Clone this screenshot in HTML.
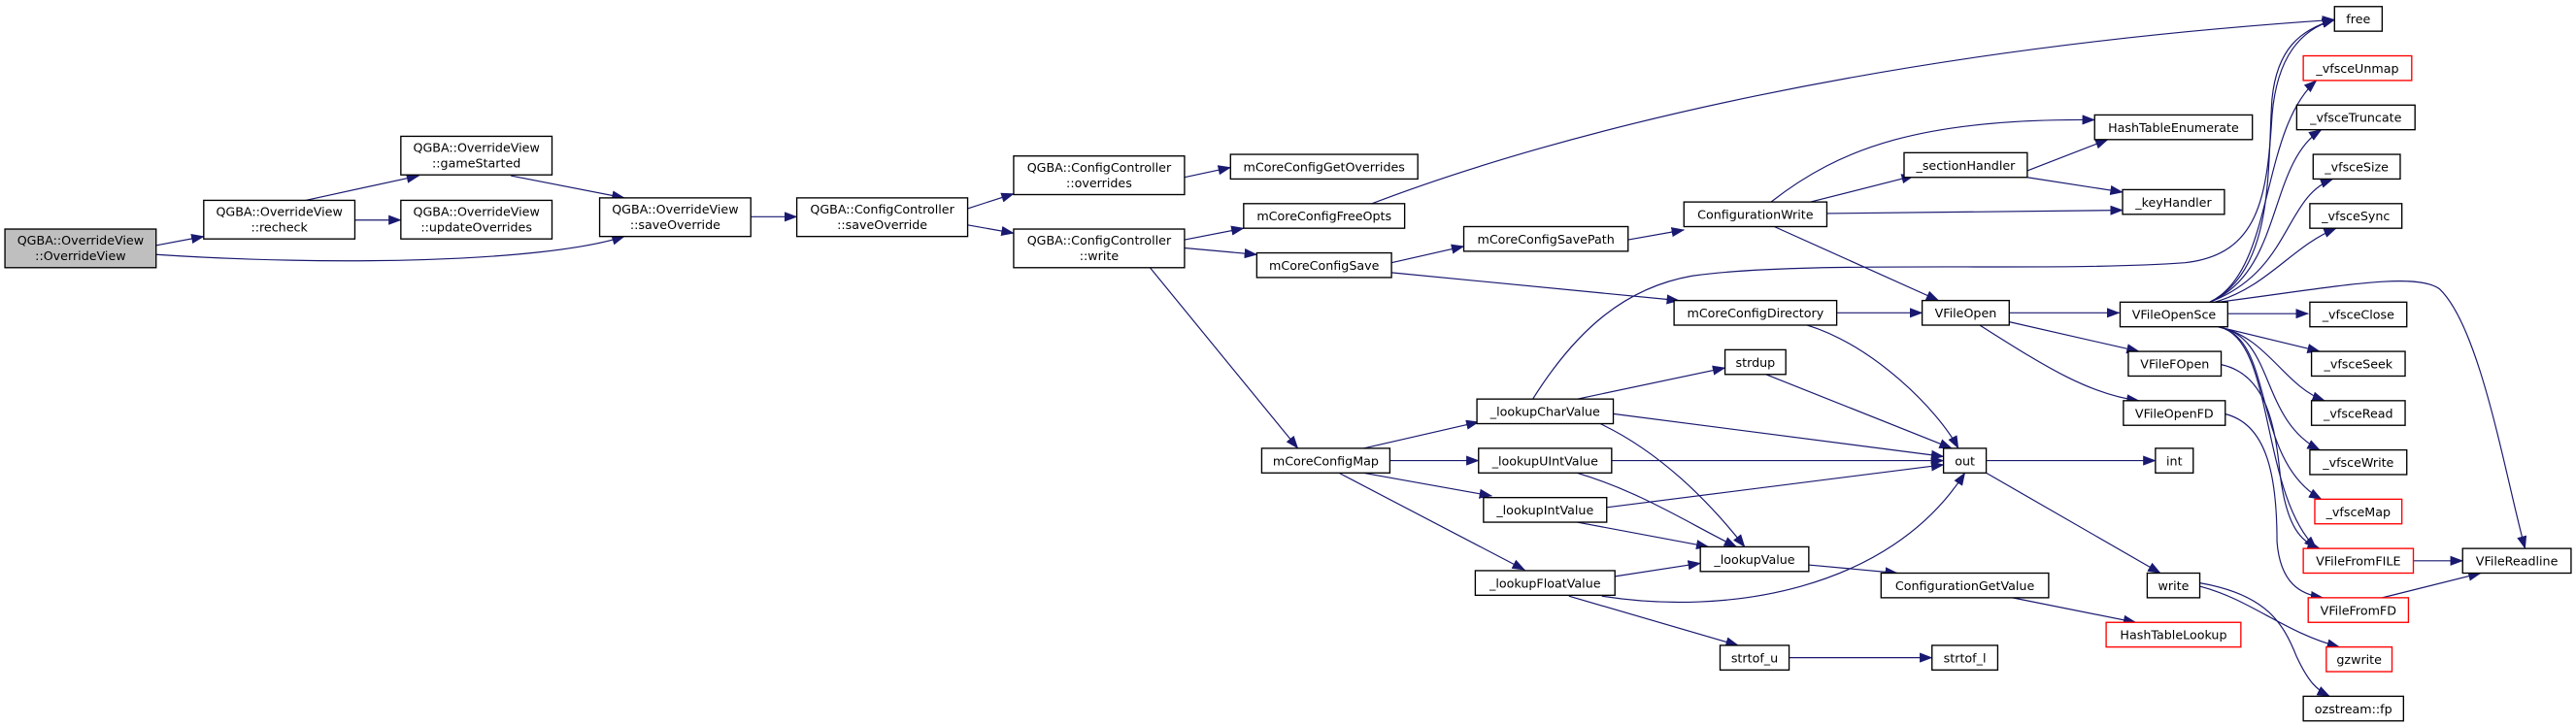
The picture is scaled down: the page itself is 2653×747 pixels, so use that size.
<!DOCTYPE html>
<html><head><meta charset="utf-8"><style>
html,body{margin:0;padding:0;background:#fff;}
svg{display:block;}
text{font-family:"DejaVu Sans","Liberation Sans",sans-serif;font-size:7.5px;fill:#000;text-anchor:middle;}
rect{fill:#fff;stroke:#000;stroke-width:0.8;}
rect.r{stroke:#ff0000;}
rect.g{fill:#bfbfbf;}
path{fill:none;stroke:#191970;stroke-width:0.7;}
</style></head><body>
<svg width="2653" height="747" viewBox="0 0 1568 441.5" preserveAspectRatio="none" xmlns="http://www.w3.org/2000/svg">
<defs><marker id="a" markerWidth="8" markerHeight="6" refX="7.5" refY="3" orient="auto" markerUnits="userSpaceOnUse"><polygon points="0,0 8,3 0,6" fill="#191970"/></marker></defs>
<g marker-end="url(#a)">
<path d="M92,150 L124,144"/>
<path d="M95,155 C200,162 330,160 380,144"/>
<path d="M186,122 L255,107"/>
<path d="M216,134 L244,134"/>
<path d="M311,107 L380,120.5"/>
<path d="M457,132 L485,132"/>
<path d="M589,127 L617,118"/>
<path d="M589,137 L617,142"/>
<path d="M721,108 L749,102"/>
<path d="M721,146 L757,139"/>
<path d="M721,151 L765,155"/>
<path d="M700,163 L790,273"/>
<path d="M835,124 C950,80 1150,30 1421,12"/>
<path d="M847,160 L891,150"/>
<path d="M847,166 L1022,183"/>
<path d="M991,146 L1025,140"/>
<path d="M1078,123 C1120,90 1170,72 1275,73"/>
<path d="M1102,123 L1165,107"/>
<path d="M1112,130 L1292,128"/>
<path d="M1080,138 L1180,183"/>
<path d="M1234,104 L1283,85"/>
<path d="M1234,108 L1292,117"/>
<path d="M1118,190.5 L1170,190.5"/>
<path d="M1100,198 C1140,210 1180,250 1192,273"/>
<path d="M1223,190.5 L1290,190.5"/>
<path d="M1223,196 L1302,214"/>
<path d="M1205,198 C1240,220 1270,240 1302,244"/>
<path d="M1345,184 C1385,165 1380,100 1383,60 C1386,30 1400,18 1421,12"/>
<path d="M933,243 C960,200 990,175 1030,168 C1100,158 1250,166 1330,160 C1375,155 1380,120 1383,70 C1386,35 1400,18 1421,12"/>
<path d="M1345,184 C1385,165 1375,80 1410,49"/>
<path d="M1345,184 C1390,165 1380,100 1413,79"/>
<path d="M1345,184 C1395,165 1390,120 1420,109"/>
<path d="M1348,184 C1380,175 1395,150 1422,139"/>
<path d="M1350,184 C1420,175 1470,165 1485,176 C1510,200 1525,290 1537,334"/>
<path d="M1356,191 L1405,191"/>
<path d="M1350,199 L1412,214"/>
<path d="M1350,199 C1380,205 1390,235 1415,244"/>
<path d="M1350,199 C1385,205 1375,255 1412,274"/>
<path d="M1350,199 C1385,205 1370,280 1413,304"/>
<path d="M1350,199 C1385,205 1375,300 1410,334"/>
<path d="M1352,222 C1380,228 1385,260 1388,290 C1392,320 1400,330 1412,334"/>
<path d="M1354,252 C1380,258 1386,290 1386,330 C1388,355 1400,362 1414,364"/>
<path d="M830,273 L900,257"/>
<path d="M846,280.5 L900,280.5"/>
<path d="M830,288 L908,302"/>
<path d="M815,288 L928,347"/>
<path d="M960,243 L1050,224"/>
<path d="M982,252 L1183,278"/>
<path d="M974,258 C1010,275 1040,305 1062,333"/>
<path d="M981,280.5 L1183,280.5"/>
<path d="M960,288 C1000,300 1030,320 1057,333"/>
<path d="M978,309 L1183,283"/>
<path d="M960,318 L1040,333"/>
<path d="M983,351 L1035,343"/>
<path d="M975,363 C1050,375 1150,360 1196,288"/>
<path d="M955,363 L1058,393"/>
<path d="M1075,228 L1188,273"/>
<path d="M1209,280.5 L1312,280.5"/>
<path d="M1209,288 L1315,349"/>
<path d="M1101,344 L1155,349"/>
<path d="M1225,364 L1300,379"/>
<path d="M1089,400.5 L1176,400.5"/>
<path d="M1339,357 C1370,365 1390,385 1424,394"/>
<path d="M1339,355 C1380,362 1390,380 1398,400 C1405,415 1410,420 1418,424"/>
<path d="M1469,341.5 L1499,341.5"/>
<path d="M1450,364 L1510,349"/>
</g>
<rect class="g" x="3" y="139.5" width="92" height="23.5"/><text x="49" y="149">QGBA::OverrideView</text><text x="49" y="158.5">::OverrideView</text>
<rect x="124" y="122" width="92" height="23.5"/><text x="170" y="131.5">QGBA::OverrideView</text><text x="170" y="141">::recheck</text>
<rect x="244" y="83" width="92" height="23.5"/><text x="290" y="92.5">QGBA::OverrideView</text><text x="290" y="102">::gameStarted</text>
<rect x="244" y="122" width="92" height="23.5"/><text x="290" y="131.5">QGBA::OverrideView</text><text x="290" y="141">::updateOverrides</text>
<rect x="365" y="120.5" width="92" height="23.5"/><text x="411" y="130">QGBA::OverrideView</text><text x="411" y="139.5">::saveOverride</text>
<rect x="485" y="120.5" width="104" height="23.5"/><text x="537" y="130">QGBA::ConfigController</text><text x="537" y="139.5">::saveOverride</text>
<rect x="617" y="95" width="104" height="23.5"/><text x="669" y="104.5">QGBA::ConfigController</text><text x="669" y="114">::overrides</text>
<rect x="617" y="139.5" width="104" height="23.5"/><text x="669" y="149">QGBA::ConfigController</text><text x="669" y="158.5">::write</text>
<rect x="749" y="94" width="114" height="15"/><text x="806" y="104.3">mCoreConfigGetOverrides</text>
<rect x="757" y="124" width="98" height="15"/><text x="806" y="134.3">mCoreConfigFreeOpts</text>
<rect x="765" y="154" width="82" height="15"/><text x="806" y="164.3">mCoreConfigSave</text>
<rect x="891" y="138" width="100" height="15"/><text x="941" y="148.3">mCoreConfigSavePath</text>
<rect x="1025" y="123" width="87" height="15"/><text x="1068.5" y="133.3">ConfigurationWrite</text>
<rect x="1275" y="70" width="96" height="15"/><text x="1323" y="80.3">HashTableEnumerate</text>
<rect x="1159" y="93" width="75" height="15"/><text x="1196.5" y="103.3">_sectionHandler</text>
<rect x="1292" y="115.5" width="62" height="15"/><text x="1323" y="125.8">_keyHandler</text>
<rect x="1019" y="183" width="99" height="15"/><text x="1068.5" y="193.3">mCoreConfigDirectory</text>
<rect x="1170" y="183" width="53" height="15"/><text x="1196.5" y="193.3">VFileOpen</text>
<rect x="1290.5" y="184" width="65.5" height="15"/><text x="1323.3" y="194.3">VFileOpenSce</text>
<rect x="1295.5" y="214" width="56.5" height="15"/><text x="1323.8" y="224.3">VFileFOpen</text>
<rect x="1292.5" y="244" width="62" height="15"/><text x="1323.5" y="254.3">VFileOpenFD</text>
<rect x="1050" y="213" width="37" height="15"/><text x="1068.5" y="223.3">strdup</text>
<rect x="1183" y="273" width="26" height="15"/><text x="1196" y="283.3">out</text>
<rect x="1312" y="273" width="23" height="15"/><text x="1323.5" y="283.3">int</text>
<rect x="1307" y="349" width="32" height="15"/><text x="1323" y="359.3">write</text>
<rect x="768" y="273" width="78" height="15"/><text x="807" y="283.3">mCoreConfigMap</text>
<rect x="899" y="243" width="83" height="15"/><text x="940.5" y="253.3">_lookupCharValue</text>
<rect x="900" y="273" width="81" height="15"/><text x="940.5" y="283.3">_lookupUIntValue</text>
<rect x="903" y="303" width="75" height="15"/><text x="940.5" y="313.3">_lookupIntValue</text>
<rect x="898" y="347.5" width="85" height="15"/><text x="940.5" y="357.8">_lookupFloatValue</text>
<rect x="1035" y="333" width="66" height="15"/><text x="1068" y="343.3">_lookupValue</text>
<rect x="1145" y="349" width="102" height="15"/><text x="1196" y="359.3">ConfigurationGetValue</text>
<rect class="r" x="1282" y="379" width="82" height="15"/><text x="1323" y="389.3">HashTableLookup</text>
<rect x="1047" y="393" width="42" height="15"/><text x="1068" y="403.3">strtof_u</text>
<rect x="1176" y="393" width="40" height="15"/><text x="1196" y="403.3">strtof_l</text>
<rect class="r" x="1416" y="394" width="40" height="15"/><text x="1436" y="404.3">gzwrite</text>
<rect x="1402" y="424" width="61" height="15"/><text x="1432.5" y="434.3">ozstream::fp</text>
<rect x="1421" y="4" width="29" height="15"/><text x="1435.5" y="14.3">free</text>
<rect class="r" x="1402" y="34" width="66" height="15"/><text x="1435" y="44.3">_vfsceUnmap</text>
<rect x="1398" y="64" width="72" height="15"/><text x="1434" y="74.3">_vfsceTruncate</text>
<rect x="1408" y="94" width="53" height="15"/><text x="1434.5" y="104.3">_vfsceSize</text>
<rect x="1406" y="124" width="56" height="15"/><text x="1434" y="134.3">_vfsceSync</text>
<rect x="1406" y="184" width="59" height="15"/><text x="1435.5" y="194.3">_vfsceClose</text>
<rect x="1407" y="214" width="57" height="15"/><text x="1435.5" y="224.3">_vfsceSeek</text>
<rect x="1407" y="244" width="57" height="15"/><text x="1435.5" y="254.3">_vfsceRead</text>
<rect x="1406" y="274" width="59" height="15"/><text x="1435.5" y="284.3">_vfsceWrite</text>
<rect class="r" x="1409" y="304" width="53" height="15"/><text x="1435.5" y="314.3">_vfsceMap</text>
<rect class="r" x="1402" y="334" width="67" height="15"/><text x="1435.5" y="344.3">VFileFromFILE</text>
<rect class="r" x="1405" y="364" width="61" height="15"/><text x="1435.5" y="374.3">VFileFromFD</text>
<rect x="1499" y="334" width="66" height="15"/><text x="1532" y="344.3">VFileReadline</text>
</svg>
</body></html>
